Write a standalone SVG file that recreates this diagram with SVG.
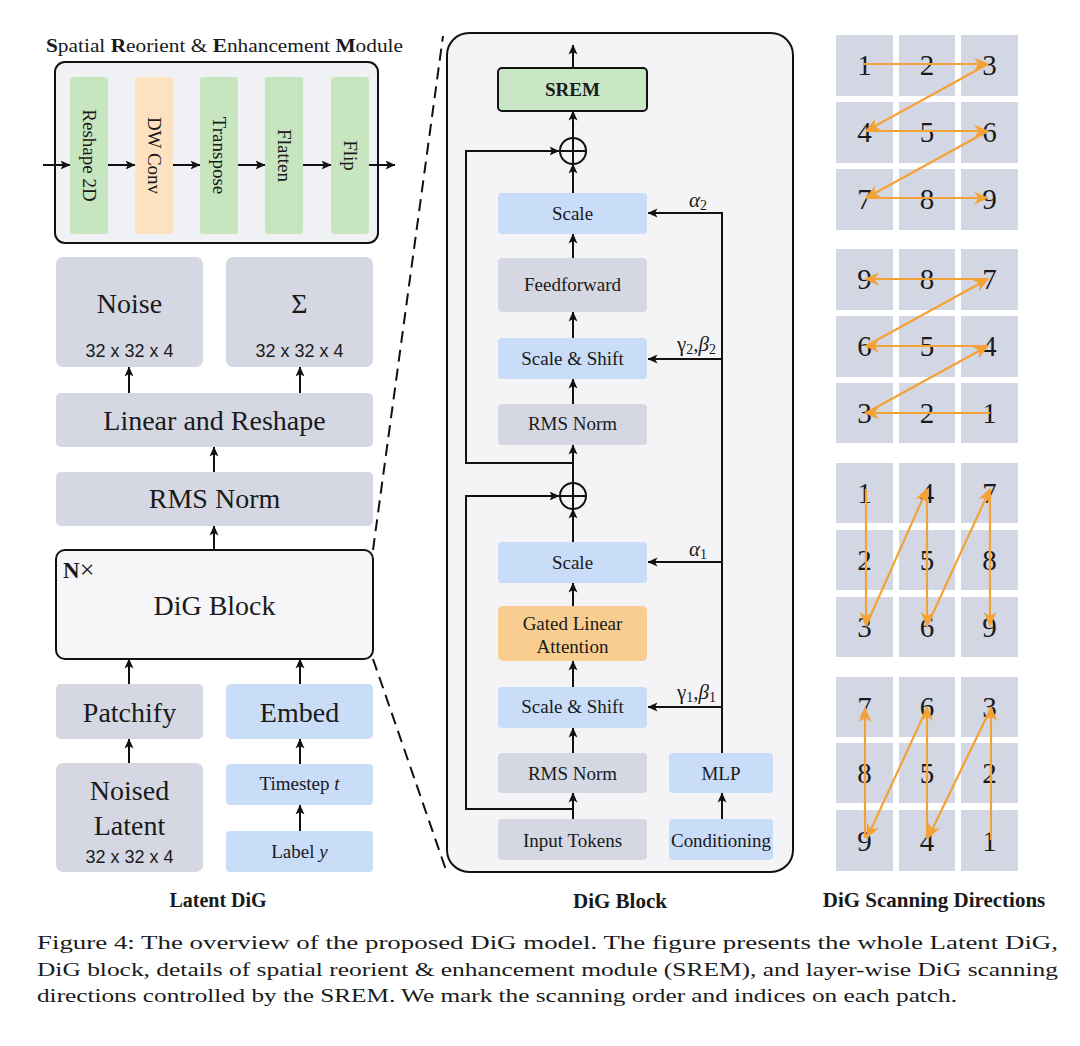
<svg xmlns="http://www.w3.org/2000/svg" width="1080" height="1046" viewBox="0 0 1080 1046">
<defs>
<marker id="ah" viewBox="0 0 10 10" refX="9.5" refY="5" markerWidth="10" markerHeight="10" markerUnits="userSpaceOnUse" orient="auto">
<path d="M0,0.5 L10,5 L0,9.5 L2.5,5 z" fill="#111"/>
</marker>
<marker id="oh" viewBox="0 0 14 12" refX="13" refY="6" markerWidth="15" markerHeight="13" markerUnits="userSpaceOnUse" orient="auto">
<path d="M0,0 L14,6 L0,12 L4,6 z" fill="#f4a236"/>
</marker>
<style>
.t{font-family:"Liberation Serif","Times New Roman",serif;fill:#1a1a1a;text-anchor:middle}
.s{font-family:"Liberation Sans",Arial,sans-serif;fill:#1a1a1a;text-anchor:middle;font-size:18px}
.b{font-weight:bold}
.gray{fill:#d5d8e3}
.blue{fill:#c9dcf8}
.ln{stroke:#111;stroke-width:2;fill:none}
.ar{stroke:#111;stroke-width:2;fill:none;marker-end:url(#ah)}
.oa{stroke:#f4a236;stroke-width:2.2;fill:none;marker-end:url(#oh)}
.cell{fill:#d3d7e3}
.num{font-family:"Liberation Serif","Times New Roman",serif;font-size:29px;fill:#1a1a1a;text-anchor:middle}
.cap{font-family:"Liberation Serif","Times New Roman",serif;font-size:19px;fill:#1a1a1a}
.gk{font-family:"Liberation Serif","Times New Roman",serif;fill:#1a1a1a;font-size:21px}
</style>
</defs>
<rect width="1080" height="1046" fill="#ffffff"/>

<!-- SREM detail module -->
<g id="srem-module">
<text x="46" y="52" class="t" style="text-anchor:start;font-size:19px" textLength="357" lengthAdjust="spacingAndGlyphs"><tspan class="b">S</tspan>patial <tspan class="b">R</tspan>eorient &amp; <tspan class="b">E</tspan>nhancement <tspan class="b">M</tspan>odule</text>
<rect x="55" y="62" width="323" height="181" rx="10" fill="#f0f1f4" stroke="#111" stroke-width="2"/>
</g>
<g id="reshape2d"><rect x="70" y="77" width="38" height="157" rx="3" fill="#c7e5bf"/><text class="t" style="font-size:19px" dominant-baseline="central" transform="translate(89,155.5) rotate(90)">Reshape 2D</text></g>
<g id="dwconv"><rect x="135" y="77" width="38" height="157" rx="3" fill="#fce2c0"/><text class="t" style="font-size:19px" dominant-baseline="central" transform="translate(154,155.5) rotate(90)">DW Conv</text></g>
<g id="transpose"><rect x="200" y="77" width="38" height="157" rx="3" fill="#c7e5bf"/><text class="t" style="font-size:19px" dominant-baseline="central" transform="translate(219,155.5) rotate(90)">Transpose</text></g>
<g id="flatten"><rect x="265" y="77" width="38" height="157" rx="3" fill="#c7e5bf"/><text class="t" style="font-size:19px" dominant-baseline="central" transform="translate(284,155.5) rotate(90)">Flatten</text></g>
<g id="flip"><rect x="331" y="77" width="38" height="157" rx="3" fill="#c7e5bf"/><text class="t" style="font-size:19px" dominant-baseline="central" transform="translate(350,155.5) rotate(90)">Flip</text></g>

<!-- Latent DiG nodes -->
<g id="noise"><rect x="56" y="257" width="147" height="110" rx="7" class="gray"/><text x="129.5" y="313" class="t" style="font-size:28px">Noise</text><text x="129.5" y="357" class="s">32 x 32 x 4</text></g>
<g id="sigma"><rect x="226" y="257" width="147" height="110" rx="7" class="gray"/><text x="299.5" y="313" class="t" style="font-size:28px">Σ</text><text x="299.5" y="357" class="s">32 x 32 x 4</text></g>
<g id="linear-reshape"><rect x="56" y="393" width="317" height="54" rx="5" class="gray"/><text x="214.5" y="430" class="t" style="font-size:28px">Linear and Reshape</text></g>
<g id="rms-norm-out"><rect x="56" y="472" width="317" height="54" rx="5" class="gray"/><text x="214.5" y="508" class="t" style="font-size:28px">RMS Norm</text></g>
<g id="dig-block-stack"><rect x="56" y="550" width="317" height="109" rx="9" fill="#f6f6f8" stroke="#111" stroke-width="2"/><text x="63" y="578" class="t b" style="text-anchor:start;font-size:23px">N<tspan font-weight="normal" font-size="26">×</tspan></text><text x="214.5" y="615" class="t" style="font-size:28px">DiG Block</text></g>
<g id="patchify"><rect x="56" y="684" width="147" height="55" rx="5" class="gray"/><text x="129.5" y="722" class="t" style="font-size:28px">Patchify</text></g>
<g id="embed"><rect x="226" y="684" width="147" height="55" rx="5" class="blue"/><text x="299.5" y="722" class="t" style="font-size:28px">Embed</text></g>
<g id="noised-latent"><rect x="56" y="763" width="147" height="109" rx="7" class="gray"/><text x="129.5" y="800" class="t" style="font-size:28px">Noised</text><text x="129.5" y="835" class="t" style="font-size:28px">Latent</text><text x="129.5" y="863" class="s">32 x 32 x 4</text></g>
<g id="timestep"><rect x="226" y="764" width="147" height="41" rx="4" class="blue"/><text x="299.5" y="790" class="t" style="font-size:19px">Timestep <tspan font-style="italic">t</tspan></text></g>
<g id="label-y"><rect x="226" y="831" width="147" height="41" rx="4" class="blue"/><text x="299.5" y="858" class="t" style="font-size:19px">Label <tspan font-style="italic">y</tspan></text></g>
<text x="218" y="907" class="t b" style="font-size:20px">Latent DiG</text>

<!-- DiG Block detail -->
<g id="dig-block-detail"><rect x="447" y="33" width="346" height="839" rx="22" fill="#f4f4f6" stroke="#111" stroke-width="2"/></g>
<g id="srem"><rect x="498" y="68" width="149" height="43" rx="4" fill="#c8e6c3" stroke="#111" stroke-width="2"/><text x="572.5" y="96" class="t b" style="font-size:19px">SREM</text></g>
<g id="add2"><circle cx="573" cy="151" r="13" fill="none" stroke="#111" stroke-width="2"/><path d="M560,151 H586 M573,138 V164" class="ln"/></g>
<g id="scale2"><rect x="498" y="193" width="149" height="41" rx="4" class="blue"/><text x="572.5" y="220" class="t" style="font-size:19px">Scale</text></g>
<g id="feedforward"><rect x="498" y="258" width="149" height="54" rx="4" class="gray"/><text x="572.5" y="291" class="t" style="font-size:19px">Feedforward</text></g>
<g id="scaleshift2"><rect x="498" y="338" width="149" height="41" rx="4" class="blue"/><text x="572.5" y="365" class="t" style="font-size:19px">Scale &amp; Shift</text></g>
<g id="rmsnorm2"><rect x="498" y="404" width="149" height="41" rx="4" class="gray"/><text x="572.5" y="430" class="t" style="font-size:19px">RMS Norm</text></g>
<g id="add1"><circle cx="573" cy="496" r="13" fill="none" stroke="#111" stroke-width="2"/><path d="M560,496 H586 M573,483 V509" class="ln"/></g>
<g id="scale1"><rect x="498" y="542" width="149" height="41" rx="4" class="blue"/><text x="572.5" y="569" class="t" style="font-size:19px">Scale</text></g>
<g id="gla"><rect x="498" y="606" width="149" height="55" rx="5" fill="#f8cd8f"/><text x="572.5" y="630" class="t" style="font-size:19px">Gated Linear</text><text x="572.5" y="653" class="t" style="font-size:19px">Attention</text></g>
<g id="scaleshift1"><rect x="498" y="687" width="149" height="41" rx="4" class="blue"/><text x="572.5" y="713" class="t" style="font-size:19px">Scale &amp; Shift</text></g>
<g id="rmsnorm1"><rect x="498" y="753" width="149" height="40" rx="4" class="gray"/><text x="572.5" y="780" class="t" style="font-size:19px">RMS Norm</text></g>
<g id="input-tokens"><rect x="498" y="819" width="149" height="41" rx="4" class="gray"/><text x="572.5" y="847" class="t" style="font-size:19px">Input Tokens</text></g>
<g id="mlp"><rect x="669" y="753" width="104" height="40" rx="4" class="blue"/><text x="721" y="780" class="t" style="font-size:19px">MLP</text></g>
<g id="conditioning"><rect x="669" y="819" width="104" height="41" rx="4" class="blue"/><text x="721" y="847" class="t" style="font-size:19px" textLength="100" lengthAdjust="spacingAndGlyphs">Conditioning</text></g>
<text x="620" y="908" class="t b" style="font-size:21px">DiG Block</text>

<!-- connectors -->
<g id="connectors">
<path d="M43,165 H70" class="ar"/>
<path d="M108,165 H135" class="ar"/>
<path d="M173,165 H200" class="ar"/>
<path d="M238,165 H265" class="ar"/>
<path d="M303,165 H331" class="ar"/>
<path d="M369,165 H395" class="ar"/>
<path d="M129,393 V367" class="ar"/>
<path d="M300,393 V367" class="ar"/>
<path d="M214,472 V447" class="ar"/>
<path d="M214,550 V526" class="ar"/>
<path d="M129,684 V659" class="ar"/>
<path d="M300,684 V659" class="ar"/>
<path d="M129,763 V739" class="ar"/>
<path d="M300,764 V739" class="ar"/>
<path d="M300,831 V805" class="ar"/>
<path d="M373,550 L443,36" stroke="#111" stroke-width="2" stroke-dasharray="12,7" fill="none"/>
<path d="M373,659 L446,870" stroke="#111" stroke-width="2" stroke-dasharray="12,7" fill="none"/>
<path d="M573,68 V45" class="ar"/>
<path d="M573,138 V111" class="ar"/>
<path d="M573,193 V164" class="ar"/>
<path d="M573,258 V234" class="ar"/>
<path d="M573,338 V312" class="ar"/>
<path d="M573,404 V379" class="ar"/>
<path d="M573,483 V445" class="ar"/>
<path d="M573,542 V509" class="ar"/>
<path d="M573,606 V583" class="ar"/>
<path d="M573,687 V661" class="ar"/>
<path d="M573,753 V728" class="ar"/>
<path d="M573,819 V793" class="ar"/>
<path d="M573,463 H466 V151 H559" class="ar"/>
<path d="M573,809 H466 V496 H559" class="ar"/>
<path d="M722,819 V793" class="ar"/>
<path d="M722,753 V212" class="ln"/>
<path d="M723,213 H648" class="ar"/>
<path d="M723,359 H648" class="ar"/>
<path d="M723,562 H648" class="ar"/>
<path d="M723,707 H648" class="ar"/>
</g>
<text x="689" y="207" class="gk"><tspan font-style="italic">α</tspan><tspan font-size="14" dy="3">2</tspan></text>
<text x="677" y="351" class="gk">γ<tspan font-size="14" dy="3">2</tspan><tspan dy="-3">,</tspan><tspan font-style="italic">β</tspan><tspan font-size="14" dy="3">2</tspan></text>
<text x="689" y="556" class="gk"><tspan font-style="italic">α</tspan><tspan font-size="14" dy="3">1</tspan></text>
<text x="677" y="699" class="gk">γ<tspan font-size="14" dy="3">1</tspan><tspan dy="-3">,</tspan><tspan font-style="italic">β</tspan><tspan font-size="14" dy="3">1</tspan></text>

<!-- scanning grids -->
<g id="grid1">
<rect class="cell" x="836" y="35" width="57" height="61"/><rect class="cell" x="899" y="35" width="56" height="61"/><rect class="cell" x="961" y="35" width="57" height="61"/>
<rect class="cell" x="836" y="102" width="57" height="61"/><rect class="cell" x="899" y="102" width="56" height="61"/><rect class="cell" x="961" y="102" width="57" height="61"/>
<rect class="cell" x="836" y="169" width="57" height="61"/><rect class="cell" x="899" y="169" width="56" height="61"/><rect class="cell" x="961" y="169" width="57" height="61"/>
<text class="num" x="864.5" y="75">1</text><text class="num" x="927" y="75">2</text><text class="num" x="989.5" y="75">3</text>
<text class="num" x="864.5" y="142">4</text><text class="num" x="927" y="142">5</text><text class="num" x="989.5" y="142">6</text>
<text class="num" x="864.5" y="209">7</text><text class="num" x="927" y="209">8</text><text class="num" x="989.5" y="209">9</text>
<path class="oa" d="M863,64 H988"/>
<path class="oa" d="M988,64 L866,131"/>
<path class="oa" d="M866,131 H988"/>
<path class="oa" d="M988,131 L866,198"/>
<path class="oa" d="M866,198 H988"/>
</g>
<g id="grid2">
<rect class="cell" x="836" y="249" width="57" height="61"/><rect class="cell" x="899" y="249" width="56" height="61"/><rect class="cell" x="961" y="249" width="57" height="61"/>
<rect class="cell" x="836" y="316" width="57" height="61"/><rect class="cell" x="899" y="316" width="56" height="61"/><rect class="cell" x="961" y="316" width="57" height="61"/>
<rect class="cell" x="836" y="383" width="57" height="60"/><rect class="cell" x="899" y="383" width="56" height="60"/><rect class="cell" x="961" y="383" width="57" height="60"/>
<text class="num" x="864.5" y="289">9</text><text class="num" x="927" y="289">8</text><text class="num" x="989.5" y="289">7</text>
<text class="num" x="864.5" y="356">6</text><text class="num" x="927" y="356">5</text><text class="num" x="989.5" y="356">4</text>
<text class="num" x="864.5" y="423">3</text><text class="num" x="927" y="423">2</text><text class="num" x="989.5" y="423">1</text>
<path class="oa" d="M990,413 H865"/>
<path class="oa" d="M866,413 L988,346"/>
<path class="oa" d="M988,346 H865"/>
<path class="oa" d="M866,346 L988,279"/>
<path class="oa" d="M988,279 H865"/>
</g>
<g id="grid3">
<rect class="cell" x="836" y="463" width="57" height="60"/><rect class="cell" x="899" y="463" width="56" height="60"/><rect class="cell" x="961" y="463" width="57" height="60"/>
<rect class="cell" x="836" y="530" width="57" height="60"/><rect class="cell" x="899" y="530" width="56" height="60"/><rect class="cell" x="961" y="530" width="57" height="60"/>
<rect class="cell" x="836" y="597" width="57" height="60"/><rect class="cell" x="899" y="597" width="56" height="60"/><rect class="cell" x="961" y="597" width="57" height="60"/>
<text class="num" x="864.5" y="503">1</text><text class="num" x="927" y="503">4</text><text class="num" x="989.5" y="503">7</text>
<text class="num" x="864.5" y="570">2</text><text class="num" x="927" y="570">5</text><text class="num" x="989.5" y="570">8</text>
<text class="num" x="864.5" y="637">3</text><text class="num" x="927" y="637">6</text><text class="num" x="989.5" y="637">9</text>
<path class="oa" d="M866,489 V626"/>
<path class="oa" d="M866,626 L927,489"/>
<path class="oa" d="M927,489 V626"/>
<path class="oa" d="M928,624 L990,489"/>
<path class="oa" d="M990,489 V626"/>
</g>
<g id="grid4">
<rect class="cell" x="836" y="677" width="57" height="60"/><rect class="cell" x="899" y="677" width="56" height="60"/><rect class="cell" x="961" y="677" width="57" height="60"/>
<rect class="cell" x="836" y="743" width="57" height="60"/><rect class="cell" x="899" y="743" width="56" height="60"/><rect class="cell" x="961" y="743" width="57" height="60"/>
<rect class="cell" x="836" y="810" width="57" height="61"/><rect class="cell" x="899" y="810" width="56" height="61"/><rect class="cell" x="961" y="810" width="57" height="61"/>
<text class="num" x="864.5" y="717">7</text><text class="num" x="927" y="717">6</text><text class="num" x="989.5" y="717">3</text>
<text class="num" x="864.5" y="783">8</text><text class="num" x="927" y="783">5</text><text class="num" x="989.5" y="783">2</text>
<text class="num" x="864.5" y="851">9</text><text class="num" x="927" y="851">4</text><text class="num" x="989.5" y="851">1</text>
<path class="oa" d="M991,840 V707"/>
<path class="oa" d="M991,708 L928,838"/>
<path class="oa" d="M927,838 V707"/>
<path class="oa" d="M927,708 L867,838"/>
<path class="oa" d="M865,838 V708"/>
</g>
<text x="934" y="907" class="t b" style="font-size:21px">DiG Scanning Directions</text>

<!-- caption -->
<text class="cap" x="37" y="949" textLength="1021" lengthAdjust="spacingAndGlyphs">Figure 4:  The overview of the proposed DiG model.  The figure presents the whole Latent DiG,</text>
<text class="cap" x="37" y="976" textLength="1021" lengthAdjust="spacingAndGlyphs">DiG block, details of spatial reorient &amp; enhancement module (SREM), and layer-wise DiG scanning</text>
<text class="cap" x="37" y="1002" textLength="920" lengthAdjust="spacingAndGlyphs">directions controlled by the SREM. We mark the scanning order and indices on each patch.</text>
</svg>
